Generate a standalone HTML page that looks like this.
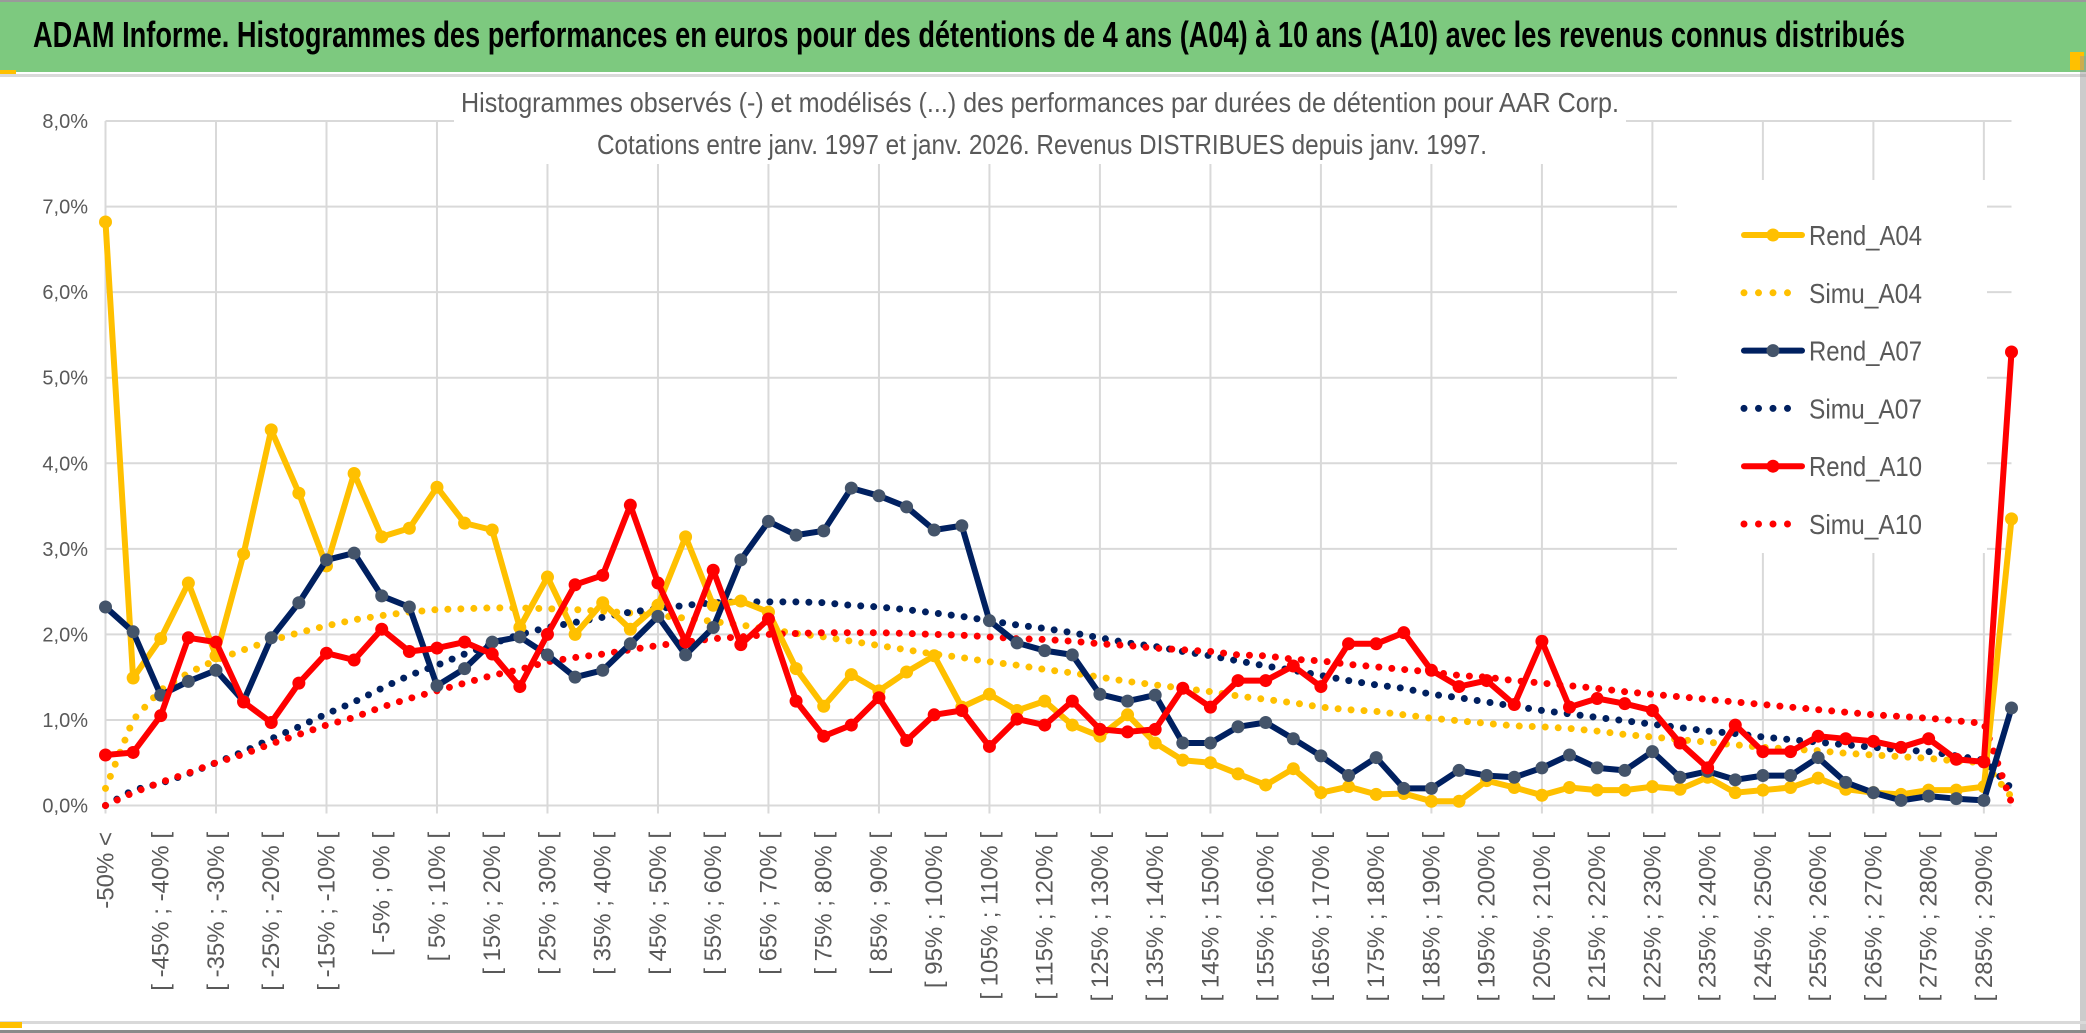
<!DOCTYPE html>
<html><head><meta charset="utf-8"><title>ADAM Informe</title>
<style>
html,body{margin:0;padding:0;background:#fff;}
body{width:2086px;height:1033px;overflow:hidden;}
svg{display:block;font-family:"Liberation Sans",sans-serif;}
</style></head>
<body>
<svg id="chart" width="2086" height="1033" viewBox="0 0 2086 1033" xmlns="http://www.w3.org/2000/svg">
  <rect x="0" y="0" width="2086" height="1033" fill="#ffffff"/>
  <rect x="0" y="0" width="2086" height="2" fill="#9a9a9a"/>
  <rect x="0" y="2" width="2086" height="70" fill="#7dc97f"/>
  <rect x="0" y="74" width="2086" height="3" fill="#d9d9d9"/>
  <rect x="0" y="70" width="16" height="4" fill="#ffc000"/>
  <rect x="2070" y="52" width="14" height="18" fill="#ffc000"/>
  <rect x="2080" y="56" width="6" height="977" fill="#9a9a9a" opacity="0.5"/>
  <text x="33" y="47" font-size="36" font-weight="bold" fill="#000" textLength="1872" lengthAdjust="spacingAndGlyphs">ADAM Informe. Histogrammes des performances en euros pour des détentions de 4 ans (A04) à 10 ans (A10) avec les revenus connus distribués</text>
  <g id="grid"></g>
  <g id="yaxis"></g>
  <g id="xaxis"></g>
  <rect x="454" y="80" width="1172" height="84" fill="#fff"/>
  <text x="1040" y="112" font-size="28" fill="#595959" text-anchor="middle" textLength="1158" lengthAdjust="spacingAndGlyphs">Histogrammes observés (-) et modélisés (...) des performances par durées de détention pour AAR Corp.</text>
  <text x="1042" y="154" font-size="28" fill="#595959" text-anchor="middle" textLength="890" lengthAdjust="spacingAndGlyphs">Cotations entre janv. 1997 et janv. 2026. Revenus DISTRIBUES depuis janv. 1997.</text>
  <rect x="1677" y="180" width="310" height="373" fill="#fff"/>
  <g id="series"></g>
  <g id="legend"></g>
  <rect x="0" y="1021" width="2086" height="3" fill="#d9d9d9"/>
  <rect x="0" y="1030" width="2086" height="3" fill="#8a8a8a"/>
  <rect x="0" y="1022" width="22" height="6" fill="#ffc000"/>
</svg>
<script>
const rendA04 = [6.82,1.49,1.95,2.6,1.75,2.94,4.39,3.65,2.8,3.88,3.14,3.24,3.72,3.3,3.22,2.08,2.67,2.0,2.37,2.06,2.34,3.14,2.34,2.39,2.26,1.6,1.16,1.53,1.34,1.56,1.75,1.15,1.3,1.11,1.22,0.94,0.81,1.06,0.73,0.53,0.5,0.37,0.24,0.43,0.15,0.22,0.13,0.14,0.05,0.05,0.29,0.21,0.12,0.21,0.18,0.18,0.22,0.19,0.33,0.15,0.18,0.21,0.32,0.19,0.15,0.13,0.18,0.18,0.22,3.35];
const rendA07 = [2.32,2.03,1.29,1.45,1.58,1.22,1.96,2.37,2.87,2.95,2.45,2.32,1.4,1.6,1.91,1.97,1.76,1.5,1.58,1.89,2.21,1.76,2.08,2.87,3.32,3.16,3.21,3.71,3.62,3.49,3.22,3.27,2.16,1.9,1.81,1.76,1.3,1.22,1.29,0.73,0.73,0.92,0.97,0.78,0.58,0.35,0.56,0.2,0.2,0.41,0.35,0.33,0.44,0.59,0.44,0.41,0.63,0.33,0.4,0.3,0.35,0.35,0.56,0.27,0.15,0.06,0.11,0.08,0.06,1.14];
const rendA10 = [0.59,0.62,1.05,1.96,1.91,1.21,0.97,1.43,1.78,1.7,2.06,1.8,1.84,1.91,1.77,1.39,2.0,2.58,2.69,3.51,2.6,1.91,2.75,1.88,2.18,1.22,0.81,0.94,1.26,0.76,1.06,1.11,0.69,1.01,0.94,1.22,0.89,0.86,0.89,1.37,1.15,1.46,1.46,1.63,1.39,1.89,1.89,2.02,1.58,1.39,1.46,1.18,1.92,1.15,1.25,1.19,1.11,0.73,0.44,0.94,0.63,0.63,0.81,0.78,0.75,0.68,0.78,0.54,0.51,5.3];
const simuA04 = [0.2,1.0,1.35,1.55,1.7,1.82,1.93,2.02,2.1,2.17,2.22,2.26,2.29,2.3,2.31,2.31,2.3,2.29,2.27,2.25,2.22,2.19,2.15,2.11,2.06,2.01,1.97,1.92,1.87,1.82,1.77,1.73,1.68,1.64,1.59,1.55,1.5,1.45,1.41,1.37,1.33,1.28,1.24,1.2,1.15,1.12,1.1,1.06,1.02,0.99,0.96,0.93,0.92,0.9,0.87,0.83,0.8,0.77,0.74,0.71,0.68,0.66,0.64,0.61,0.59,0.57,0.55,0.52,0.5,0.1];
const simuA07 = [0.0,0.18,0.26,0.37,0.5,0.63,0.78,0.92,1.07,1.21,1.37,1.52,1.64,1.77,1.89,2.0,2.08,2.14,2.2,2.26,2.3,2.34,2.37,2.38,2.38,2.38,2.37,2.34,2.32,2.29,2.25,2.21,2.16,2.11,2.07,2.02,1.96,1.9,1.86,1.8,1.75,1.69,1.63,1.58,1.52,1.46,1.41,1.37,1.3,1.26,1.21,1.16,1.11,1.07,1.03,0.99,0.95,0.91,0.87,0.84,0.8,0.77,0.74,0.71,0.68,0.65,0.63,0.58,0.53,0.2];
const simuA10 = [0.0,0.15,0.27,0.38,0.5,0.6,0.72,0.83,0.94,1.03,1.15,1.25,1.34,1.43,1.52,1.59,1.68,1.73,1.77,1.82,1.87,1.91,1.95,1.97,2.0,2.01,2.02,2.02,2.02,2.01,2.0,1.99,1.97,1.95,1.94,1.92,1.89,1.87,1.84,1.82,1.8,1.76,1.75,1.71,1.69,1.65,1.62,1.59,1.56,1.52,1.5,1.46,1.43,1.4,1.37,1.33,1.3,1.27,1.24,1.21,1.18,1.15,1.12,1.09,1.06,1.04,1.02,0.99,0.96,0.03];
const yTicks = [0,1,2,3,4,5,6,7,8];
const yTickLabels = ["0,0%","1,0%","2,0%","3,0%","4,0%","5,0%","6,0%","7,0%","8,0%"];
const nCat = 70;
const categories = [];
for (let k = 0; k < nCat; k++) {
  if (k === 0) categories.push("-50% <");
  else { const a = -50 + 5*(k-1); categories.push("[ " + a + "% ; " + (a+5) + "% ["); }
}
const legendNames = ["Rend_A04","Simu_A04","Rend_A07","Simu_A07","Rend_A10","Simu_A10"];

const NS = "http://www.w3.org/2000/svg";
const X0 = 105.5, X1 = 2011.5, Y0 = 805.5, YTOP = 121;
function xScale(i){ return X0 + (X1 - X0) * i / (nCat - 1); }
function yScale(v){ return Y0 - (Y0 - YTOP) * v / 8; }
function mk(tag, attrs, parent){ const e = document.createElementNS(NS, tag); for (const k in attrs) e.setAttribute(k, attrs[k]); parent.appendChild(e); return e; }

const grid = document.getElementById('grid');
const yaxis = document.getElementById('yaxis');
const xaxis = document.getElementById('xaxis');
const series = document.getElementById('series');
const legend = document.getElementById('legend');

yTicks.forEach((t, j) => {
  const l = mk('line', {x1: X0, x2: X1, y1: yScale(t), y2: yScale(t), stroke: '#d9d9d9', 'stroke-width': 2}, grid);
  
  
  const tx = mk('text', {x: 88, y: yScale(t) + 7, 'font-size': 20, fill: '#595959', 'text-anchor': 'end'}, yaxis);
  tx.textContent = yTickLabels[j];
  
  
});
for (let i = 0; i < nCat; i += 4) {
  const l = mk('line', {x1: xScale(i), x2: xScale(i), y1: YTOP, y2: Y0 + 8, stroke: '#d9d9d9', 'stroke-width': 2}, grid);
  
  
}
for (let i = 0; i < nCat; i += 2) {
  const x = xScale(i) + 8, y = 832;
  const tx = mk('text', {x: x, y: y, 'font-size': 24, fill: '#595959', 'text-anchor': 'end', transform: 'rotate(-90 ' + x + ' ' + y + ')'}, xaxis);
  tx.textContent = categories[i];
  
  
}

function pts(arr){ return arr.map((v, i) => xScale(i).toFixed(1) + ',' + yScale(v).toFixed(1)).join(' '); }
function drawSimu(arr, color, name){
  const p = mk('polyline', {points: pts(arr), fill: 'none', stroke: color, 'stroke-width': 7, 'stroke-linecap': 'round', 'stroke-dasharray': '0 13'}, series);
  
  
}
function drawRend(arr, color, mcolor, name){
  const p = mk('polyline', {points: pts(arr), fill: 'none', stroke: color, 'stroke-width': 6, 'stroke-linejoin': 'round'}, series);
  
  
  arr.forEach((v, i) => {
    const c = mk('circle', {cx: xScale(i), cy: yScale(v), r: 6.5, fill: mcolor}, series);
    
    
  });
}
drawSimu(simuA04, '#ffc000', 'simu-a04-curve');
drawSimu(simuA07, '#002060', 'simu-a07-curve');
drawSimu(simuA10, '#ff0000', 'simu-a10-curve');
drawRend(rendA04, '#ffc000', '#ffc000', 'rend-a04');
drawRend(rendA07, '#002060', '#44546a', 'rend-a07');
drawRend(rendA10, '#ff0000', '#ff0000', 'rend-a10');

const legColors = ['#ffc000','#ffc000','#002060','#002060','#ff0000','#ff0000'];
const legMarker = ['#ffc000',null,'#44546a',null,'#ff0000',null];
legendNames.forEach((nm, j) => {
  const y = 235 + j * 57.8;
  const g = mk('g', {}, legend);
  
  
  if (legMarker[j]) {
    mk('line', {x1: 1744, x2: 1802, y1: y, y2: y, stroke: legColors[j], 'stroke-width': 6, 'stroke-linecap': 'round'}, g);
    mk('circle', {cx: 1773, cy: y, r: 6.5, fill: legMarker[j]}, g);
  } else {
    mk('line', {x1: 1744, x2: 1802, y1: y, y2: y, stroke: legColors[j], 'stroke-width': 7, 'stroke-linecap': 'round', 'stroke-dasharray': '0 14.5'}, g);
  }
  const t = mk('text', {x: 1809, y: y + 10, 'font-size': 28, fill: '#595959', textLength: 113, lengthAdjust: 'spacingAndGlyphs'}, g);
  t.textContent = nm;
});
</script>
</body></html>
